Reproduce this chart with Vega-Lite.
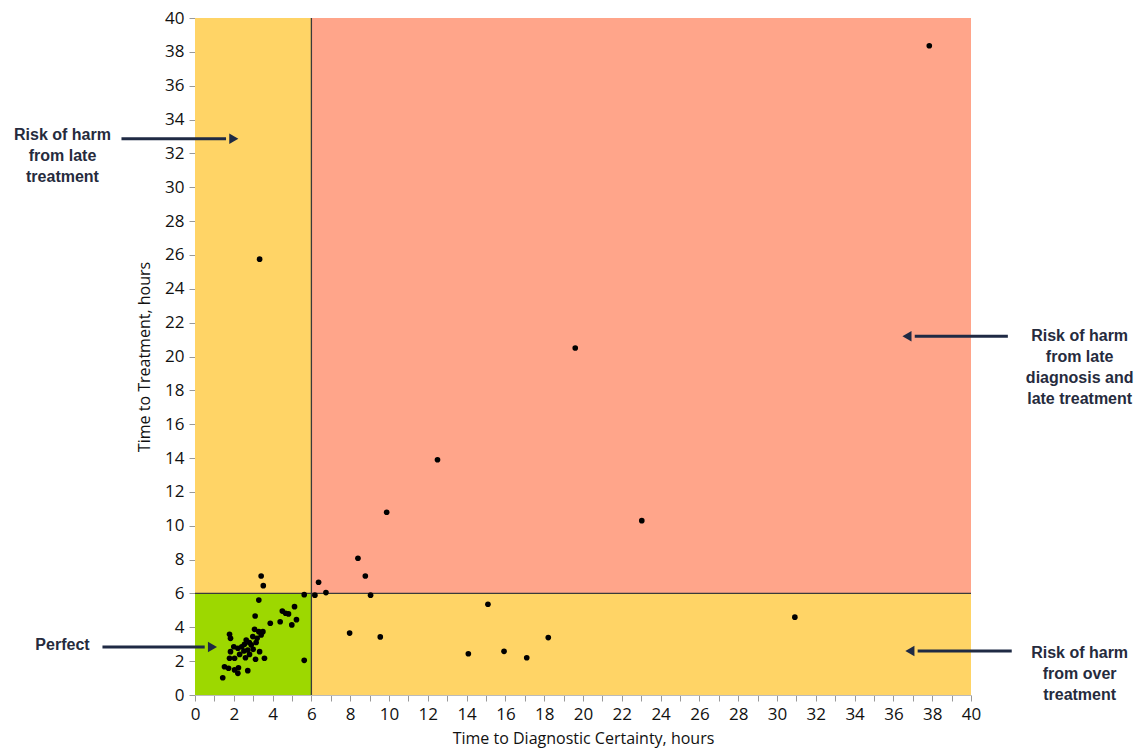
{
  "$schema": "https://vega.github.io/schema/vega-lite/v6.json",
  "width": 776,
  "height": 677,
  "autosize": {"type": "none"},
  "padding": {"left": 195, "top": 18, "right": 169, "bottom": 58},
  "background": "white",
  "config": {
    "view": {"stroke": null},
    "font": "Open Sans",
    "axis": {"labelFont": "Open Sans", "titleFont": "Open Sans", "labelFontSize": 17, "titleFontSize": 16, "labelColor": "#111", "titleColor": "#111", "titleFontWeight": "normal", "grid": false, "domainColor": "#bbbbbb", "tickColor": "#999999", "tickSize": 6, "labelOverlap": false, "labelFlush": false}
  },
  "datasets": {
    "zones": [
      {"zone": "yellow", "x": 0, "x2": 6, "y": 6, "y2": 40},
      {"zone": "salmon", "x": 6, "x2": 40, "y": 6, "y2": 40},
      {"zone": "yellow", "x": 6, "x2": 40, "y": 0, "y2": 6},
      {"zone": "green", "x": 0, "x2": 6, "y": 0, "y2": 6}
    ],
    "lines": [
      {"x": 6, "x2": 6, "y": 0, "y2": 40},
      {"x": 0, "x2": 40, "y": 6, "y2": 6}
    ],
    "points": [
      {"x": 37.85, "y": 38.36},
      {"x": 3.33, "y": 25.75},
      {"x": 19.6, "y": 20.5},
      {"x": 12.5, "y": 13.9},
      {"x": 9.88, "y": 10.8},
      {"x": 23.03, "y": 10.3},
      {"x": 8.4, "y": 8.08},
      {"x": 8.78, "y": 7.03},
      {"x": 6.37, "y": 6.66},
      {"x": 5.63, "y": 5.93},
      {"x": 6.18, "y": 5.9},
      {"x": 6.75, "y": 6.05},
      {"x": 9.05, "y": 5.9},
      {"x": 15.1, "y": 5.36},
      {"x": 30.92, "y": 4.6},
      {"x": 7.97, "y": 3.66},
      {"x": 9.55, "y": 3.43},
      {"x": 14.09, "y": 2.44},
      {"x": 15.93, "y": 2.58},
      {"x": 17.1, "y": 2.2},
      {"x": 18.21, "y": 3.39},
      {"x": 5.63, "y": 2.05},
      {"x": 3.41, "y": 7.03},
      {"x": 3.52, "y": 6.46},
      {"x": 3.29, "y": 5.61},
      {"x": 3.1, "y": 4.67},
      {"x": 4.5, "y": 4.96},
      {"x": 4.67, "y": 4.83},
      {"x": 4.82, "y": 4.79},
      {"x": 5.13, "y": 5.22},
      {"x": 5.23, "y": 4.45},
      {"x": 4.99, "y": 4.14},
      {"x": 4.39, "y": 4.33},
      {"x": 3.88, "y": 4.24},
      {"x": 3.07, "y": 3.88},
      {"x": 3.29, "y": 3.74},
      {"x": 3.2, "y": 3.35},
      {"x": 3.15, "y": 3.1},
      {"x": 1.78, "y": 3.59},
      {"x": 1.83, "y": 3.35},
      {"x": 2.64, "y": 3.25},
      {"x": 2.21, "y": 2.76},
      {"x": 2.0, "y": 2.85},
      {"x": 2.41, "y": 2.85},
      {"x": 2.52, "y": 2.6},
      {"x": 2.72, "y": 2.66},
      {"x": 2.81, "y": 2.4},
      {"x": 2.3, "y": 2.4},
      {"x": 1.83, "y": 2.56},
      {"x": 1.78, "y": 2.17},
      {"x": 2.04, "y": 2.17},
      {"x": 3.33, "y": 2.56},
      {"x": 3.12, "y": 2.11},
      {"x": 3.58, "y": 2.17},
      {"x": 1.52, "y": 1.67},
      {"x": 1.73, "y": 1.58},
      {"x": 2.04, "y": 1.48},
      {"x": 2.24, "y": 1.61},
      {"x": 2.21, "y": 1.28},
      {"x": 2.72, "y": 1.44},
      {"x": 1.43, "y": 1.02},
      {"x": 2.9, "y": 2.96},
      {"x": 2.98, "y": 3.45},
      {"x": 2.8, "y": 3.1},
      {"x": 2.55, "y": 3.0},
      {"x": 3.41, "y": 3.55},
      {"x": 3.5, "y": 3.74},
      {"x": 3.0, "y": 2.7},
      {"x": 2.6, "y": 2.2}
    ],
    "arrows": [
      {"x": -3.79, "x2": 1.6, "y": 32.86},
      {"x": -4.77, "x2": 0.5, "y": 2.84},
      {"x": 41.9, "x2": 37.1, "y": 21.2},
      {"x": 42.1, "x2": 37.25, "y": 2.6}
    ],
    "heads": [
      {"x": 2.0, "y": 32.86, "dir": "right"},
      {"x": 0.9, "y": 2.84, "dir": "right"},
      {"x": 36.7, "y": 21.2, "dir": "left"},
      {"x": 36.85, "y": 2.6, "dir": "left"}
    ],
    "notes": [
      {"text": "Risk of harm\nfrom late\ntreatment", "x": -6.83, "y": 33.1},
      {"text": "Perfect", "x": -6.83, "y": 2.95},
      {"text": "Risk of harm\nfrom late\ndiagnosis and\nlate treatment", "x": 45.6, "y": 21.2},
      {"text": "Risk of harm\nfrom over\ntreatment", "x": 45.6, "y": 2.5}
    ]
  },
  "encoding": {
    "x": {"field": "x", "type": "quantitative", "scale": {"domain": [0, 40], "nice": false}, "axis": {"title": "Time to Diagnostic Certainty, hours", "values": [0,1,2,3,4,5,6,7,8,9,10,11,12,13,14,15,16,17,18,19,20,21,22,23,24,25,26,27,28,29,30,31,32,33,34,35,36,37,38,39,40], "labelExpr": "datum.value % 2 == 0 ? datum.label : ''", "labelOverlap": false, "labelFlush": false, "labelPadding": 5, "titlePadding": 8}},
    "y": {"field": "y", "type": "quantitative", "scale": {"domain": [0, 40], "nice": false}, "axis": {"title": "Time to Treatment, hours", "values": [0,2,4,6,8,10,12,14,16,18,20,22,24,26,28,30,32,34,36,38,40], "labelOverlap": false, "labelFlush": false, "labelPadding": 5, "titlePadding": 12}}
  },
  "layer": [
    {
      "data": {"name": "zones"},
      "mark": {"type": "rect"},
      "encoding": {
        "x2": {"field": "x2"},
        "y2": {"field": "y2"},
        "color": {"field": "zone", "type": "nominal", "scale": {"domain": ["yellow", "salmon", "green"], "range": ["#FFD466", "#FFA58A", "#9DD800"]}, "legend": null}
      }
    },
    {
      "data": {"name": "lines"},
      "mark": {"type": "rule", "color": "#3a3a3a", "strokeWidth": 1.3},
      "encoding": {
        "x2": {"field": "x2"},
        "y2": {"field": "y2"}
      }
    },
    {
      "data": {"name": "points"},
      "mark": {"type": "point", "filled": true, "color": "#000000", "size": 32, "opacity": 1}
    },
    {
      "data": {"name": "arrows"},
      "mark": {"type": "rule", "color": "#1f2a44", "strokeWidth": 3, "clip": false},
      "encoding": {
        "x2": {"field": "x2"}
      }
    },
    {
      "data": {"name": "heads"},
      "mark": {"type": "point", "filled": true, "color": "#1f2a44", "size": 110, "opacity": 1, "clip": false},
      "encoding": {
        "shape": {"field": "dir", "type": "nominal", "scale": {"domain": ["right", "left"], "range": ["triangle-right", "triangle-left"]}, "legend": null}
      }
    },
    {
      "data": {"name": "notes"},
      "mark": {"type": "text", "font": "Liberation Sans", "fontWeight": "bold", "fontSize": 16, "color": "#262b3d", "lineBreak": "\n", "lineHeight": 21, "align": "center", "baseline": "middle", "clip": false},
      "encoding": {
        "text": {"field": "text", "type": "nominal"}
      }
    }
  ]
}
